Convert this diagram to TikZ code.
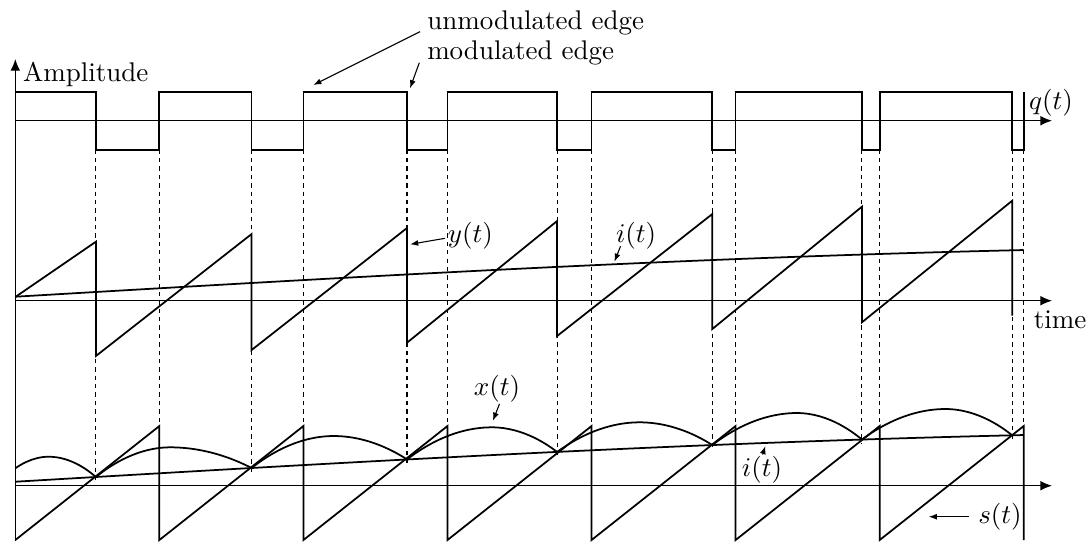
\documentclass[tikz,border=0pt]{standalone}
\usetikzlibrary{arrows.meta}
\begin{document}
\begin{tikzpicture}[x=0.37037pt, y=-0.37037pt,
  sig/.style={line width=0.65pt, line join=miter},
  axisline/.style={line width=0.45pt, -{Latex[length=4.3pt,width=3.6pt]}},
  guide/.style={line width=0.4pt, dash pattern=on 1.6pt off 1.5pt},
  lbl/.style={inner sep=0pt},
  lblarrow/.style={line width=0.4pt, -{Latex[length=3pt,width=2.2pt]}}]
\useasboundingbox (0,0) rectangle (1088,541);

% ---------- axes ----------
\coordinate (vbot) at (15.3,541);
\coordinate (vtop) at (15.3,59);
\coordinate (qa0) at (15.3,120.7);  \coordinate (qa1) at (1052,120.7);
\coordinate (ma0) at (15.3,300.7);  \coordinate (ma1) at (1052,300.7);
\coordinate (ba0) at (15.3,485.7);  \coordinate (ba1) at (1052,485.7);

% ---------- dashed guides ----------
\foreach \x in {159.36,303.42,447.48,591.54,735.6,879.66,1023.72}
  \draw[guide] (\x,149.7) -- (\x,426);
\foreach \x/\y in {95.9/477.0,251.6/468.0,407/459.4,557.1/451.9,712.3/445.0,861.9/439.5,1012.2/435.3}
  \draw[guide] (\x,149.7) -- (\x,\y+4);

\draw[axisline] (vbot) -- (vtop);
\draw[axisline] (qa0) -- (qa1);
\draw[axisline] (ma0) -- (ma1);
\draw[axisline] (ba0) -- (ba1);

% ---------- q(t) ----------
\draw[sig] (15.3,91.7) -- (95.9,91.7) -- (95.9,149.7) -- (159.36,149.7) -- (159.36,91.7)
  -- (251.6,91.7) -- (251.6,149.7) -- (303.42,149.7) -- (303.42,91.7)
  -- (407,91.7) -- (407,149.7) -- (447.48,149.7) -- (447.48,91.7)
  -- (557.1,91.7) -- (557.1,149.7) -- (591.54,149.7) -- (591.54,91.7)
  -- (712.3,91.7) -- (712.3,149.7) -- (735.6,149.7) -- (735.6,91.7)
  -- (861.9,91.7) -- (861.9,149.7) -- (879.66,149.7) -- (879.66,91.7)
  -- (1012.2,91.7) -- (1012.2,149.7) -- (1023.72,149.7) -- (1023.72,91.7);

% ---------- y(t) ----------
\draw[sig] (15.3,297) -- (95.9,241.7) -- (95.9,356) -- (251.6,234) -- (251.6,350)
  -- (407,228) -- (407,342.7) -- (557.1,221) -- (557.1,336) -- (712.3,214) -- (712.3,329)
  -- (861.9,206.7) -- (861.9,322.3) -- (1012.2,200.7) -- (1012.2,315.7);

% ---------- i(t) middle ----------
\draw[sig] plot[domain=15.3:1023.72, samples=60] (\x, {300.7-4-50.7*sin(67.04*((\x-15.3)/1008.4))});

% ---------- s(t) ----------
\draw[sig] (15.3,540) -- (159.36,426) -- (159.36,540) -- (303.42,426) -- (303.42,540)
  -- (447.48,426) -- (447.48,540) -- (591.54,426) -- (591.54,540) -- (735.6,426) -- (735.6,540)
  -- (879.66,426) -- (879.66,540) -- (1023.72,426) -- (1023.72,540);

% ---------- i(t) bottom ----------
\draw[sig] plot[domain=15.3:1023.72, samples=60] (\x, {485.7-4-50.7*sin(67.04*((\x-15.3)/1008.4))});

% ---------- x(t) ----------
\draw[sig] (15.3,468.3) parabola bend (48.7,456.7) (95.9,477.0);
\draw[sig] (95.9,477.0) parabola bend (170.3,447.3) (251.6,468.0);
\draw[sig] (251.6,468.0) parabola bend (333.7,436) (407,459.4);
\draw[sig] (407,459.4) parabola bend (491.8,427.3) (557.1,451.9);
\draw[sig] (557.1,451.9) parabola bend (639.6,422.3) (712.3,445.0);
\draw[sig] (712.3,445.0) parabola bend (796.9,413) (861.9,439.5);
\draw[sig] (861.9,439.5) parabola bend (945.4,409) (1012.2,435.3);

% ---------- labels ----------
\node[lbl, anchor=base west] (amp) at (22.6,81.7) {Amplitude};
\node[lbl, anchor=base west] (unmod) at (426.7,29.3) {unmodulated edge};
\node[lbl, anchor=base west] (mod) at (426.7,59.5) {modulated edge};
\node[lbl] (qlab) at (1050.9,102.5) {$q(t)$};
\node[lbl, anchor=base west] (timelab) at (1033.3,328) {time};
\node[lbl] (ylab) at (470.4,235.9) {$y(t)$};
\node[lbl] (ilabA) at (636.1,235.8) {$i(t)$};
\node[lbl] (xlab) at (497,388.5) {$x(t)$};
\node[lbl] (ilabB) at (762,470) {$i(t)$};
\node[lbl] (slab) at (1000,516.7) {$s(t)$};

\coordinate (unmodtip) at (313.3,85);
\coordinate (modtip) at (410,88.3);
\coordinate (ytip) at (410.1,244.3);
\coordinate (iAtip) at (614.4,261.7);
\coordinate (xtip) at (492.9,420.7);
\coordinate (iBtip) at (765.4,446);
\coordinate (stip) at (928.7,516.7);

\draw[lblarrow] ([shift={(-6.7,2.4)}]unmod.base west) -- (unmodtip);
\draw[lblarrow] ([shift={(-7.4,3.2)}]mod.base west) -- (modtip);
\draw[lblarrow] ([shift={(-2.4,2.4)}]ylab.west) -- (ytip);
\draw[lblarrow] ([shift={(5,-3.6)}]ilabA.south west) -- (iAtip);
\draw[lblarrow] ([shift={(2.5,1.3)}]xlab.south) -- (xtip);
\draw[lblarrow] ([shift={(0.6,-1.5)}]ilabB.north) -- (iBtip);
\draw[lblarrow] ([xshift=-3.3]slab.west) -- (stip);
\end{tikzpicture}
\end{document}
